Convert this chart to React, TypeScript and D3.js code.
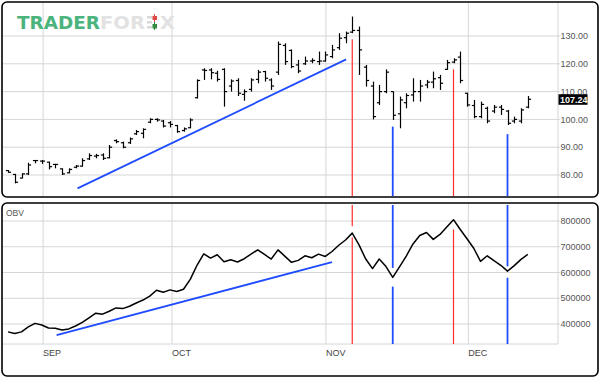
import React from "react";
import * as d3 from "d3";

// ---------- data ----------
const priceOpen = [
  81.6, 80.2, 78.9, 80.4, 85.2, 85.0, 84.6, 83.8, 82.2, 80.8,
  82.8, 83.2, 85.8, 86.8, 87.2, 86.2, 92.4, 91.6, 91.6, 94.8,
  95.0, 99.0, 100.0, 99.4, 98.8, 97.8, 96.0, 97.0, 107.8, 117.8,
  117.8, 116.6, 118.0, 112.0, 114.0, 109.0, 110.8, 114.4, 117.2, 114.2,
  117.0, 126.6, 124.8, 119.6, 120.0, 121.0, 120.8, 121.0, 122.6, 125.8,
  129.4, 131.4, 132.0, 118.8, 112.0, 106.0, 110.0, 110.0, 102.0, 106.0,
  108.8, 110.0, 112.4, 113.4, 115.0, 118.0, 120.6, 122.4, 109.4, 105.0,
  101.0, 104.0, 103.0, 104.4, 103.0, 99.4, 99.4, 104.4,
];
const priceHigh = [
  81.8, 80.4, 80.6, 84.4, 85.4, 85.4, 84.8, 84.0, 82.4, 82.4,
  83.6, 86.0, 87.8, 87.6, 87.8, 90.8, 92.8, 92.0, 93.5, 96.2,
  96.8, 100.4, 100.4, 99.8, 99.4, 98.0, 97.1, 100.4, 114.4, 118.4,
  118.4, 117.5, 118.4, 114.4, 114.8, 110.8, 114.8, 117.8, 117.5, 114.8,
  128.0, 127.4, 125.2, 121.4, 122.6, 122.0, 124.4, 124.4, 126.8, 131.0,
  131.6, 137.0, 133.4, 119.6, 113.6, 112.4, 118.0, 110.0, 108.2, 109.4,
  114.8, 114.2, 114.2, 117.2, 116.0, 121.4, 122.0, 124.4, 109.6, 107.0,
  106.4, 104.6, 105.2, 105.2, 103.4, 101.0, 104.0, 108.4,
];
const priceLow = [
  80.8, 77.0, 78.8, 80.0, 84.2, 84.0, 82.0, 82.4, 80.0, 80.6,
  82.4, 83.0, 85.4, 86.0, 85.4, 86.0, 91.4, 89.6, 91.2, 94.4,
  93.2, 98.6, 99.2, 97.1, 97.1, 95.2, 95.6, 96.8, 107.5, 114.2,
  114.4, 113.6, 104.6, 110.0, 108.4, 106.7, 110.0, 113.0, 113.6, 110.6,
  116.0, 119.6, 118.4, 116.6, 119.6, 120.2, 119.6, 120.8, 122.0, 125.0,
  127.4, 131.0, 116.0, 111.8, 100.0, 105.2, 109.4, 99.8, 96.8, 104.0,
  106.4, 106.4, 111.2, 111.2, 110.6, 117.8, 120.2, 113.0, 104.6, 100.4,
  100.4, 98.6, 102.2, 101.6, 98.0, 98.6, 98.6, 104.0,
];
const priceClose = [
  81.0, 77.4, 80.4, 83.6, 85.2, 85.0, 83.0, 83.8, 80.4, 82.0,
  83.2, 85.2, 87.0, 87.0, 86.0, 90.0, 92.0, 90.0, 93.0, 95.6,
  96.4, 100.0, 99.8, 97.6, 98.2, 95.6, 96.6, 99.8, 114.0, 117.6,
  116.8, 114.4, 110.0, 113.8, 109.4, 110.0, 114.2, 117.0, 114.8, 112.0,
  127.0, 120.8, 119.0, 117.4, 121.0, 121.2, 121.0, 123.2, 125.0, 129.2,
  131.0, 132.0, 125.0, 114.0, 101.0, 110.0, 117.0, 101.5, 107.0, 108.6,
  110.0, 112.0, 113.4, 114.6, 113.0, 120.4, 121.4, 114.0, 105.2, 101.0,
  105.4, 99.4, 104.4, 103.6, 98.6, 100.0, 103.4, 107.24,
];
const obvValues = [
  369400, 363000, 369400, 388500, 402500, 396000, 384700, 383400, 377000, 380900,
  392300, 406300, 424200, 442000, 438200, 449700, 462400, 459800, 468800, 481500,
  493000, 508300, 531200, 523500, 532500, 526100, 535000, 573200, 628000, 672600,
  656000, 668800, 642000, 649700, 640800, 653500, 671300, 687900, 670000, 652200,
  687900, 663700, 639500, 647100, 664900, 657300, 671300, 662400, 681500, 705700,
  726100, 752900, 707000, 652200, 615300, 652200, 622900, 580900, 621600, 663700,
  710800, 743900, 755400, 728700, 747800, 777100, 805100, 766900, 731200, 694300,
  643300, 664900, 645800, 628000, 605100, 626700, 650900, 670000,
];

const monthLabels = ["SEP", "OCT", "NOV", "DEC"];
const monthIndex = [5.2, 24.3, 47.1, 68.2];
const priceTicks = [80, 90, 100, 110, 120, 130];
const obvTicks = [400000, 500000, 600000, 700000, 800000];
const lastPrice = 107.24;

const priceTrendIdx = [10.3, 50.1];
const priceTrendVal = [75.2, 121.6];
const obvTrendIdx = [7.2, 48.0];
const obvTrendVal = [356600, 640750];

// divergence markers
const signalIdx = [51, 57, 66, 74];
const signalKind = ["peak", "trough", "peak", "trough"];
const signalPriceStart = [128.8, 97.4, 118.0, 94.7];
const signalObvUpperEnd: (number | null)[] = [779600, 617800, null, 624200];
const signalObvLowerStart = [736300, 545200, 766900, 579600];

// ---------- layout ----------
const W = 600;
const H = 378;
const TOP = { x: 2, y: 2, w: 596, h: 195 };
const BOT = { x: 2, y: 203, w: 596, h: 173 };
const AXIS_X = 558;
const BOT_PLOT_BOTTOM = 344;
const GRID = "#d6d6d6";
const FONT = "'Liberation Sans', Arial, sans-serif";

export default function App() {
  const x = d3.scaleLinear().domain([0, 77]).range([8, 527.75]);
  const yP = d3.scaleLinear().domain([80, 130]).range([175, 36]);
  const yO = d3.scaleLinear().domain([400000, 800000]).range([324, 221]);

  const obvLine = d3
    .line<number>()
    .x((_, i) => x(i))
    .y((d) => yO(d))(obvValues) as string;

  const priceTrend = d3
    .line<number>()
    .x((d) => x(d))
    .y((_, i) => yP(priceTrendVal[i]))(priceTrendIdx) as string;
  const obvTrend = d3
    .line<number>()
    .x((d) => x(d))
    .y((_, i) => yO(obvTrendVal[i]))(obvTrendIdx) as string;

  const sigColor = (k: string) => (k === "peak" ? "#ff2a2a" : "#1f4cff");
  const sigWidth = (k: string) => (k === "peak" ? 1.2 : 1.8);

  const tick = 2.6;

  return (
    <svg width={W} height={H} style={{ position: "absolute", left: 0, top: 0, background: "#fff" }}
      fontFamily={FONT}>
      <rect x={0} y={0} width={W} height={H} fill="#fff" />

      {/* ---------- top panel grid ---------- */}
      {priceTicks.map((t) => (
        <line key={"pg" + t} x1={TOP.x} x2={AXIS_X + 2} y1={yP(t)} y2={yP(t)} stroke={GRID} strokeWidth={1} />
      ))}
      {monthIndex.map((m, i) => (
        <line key={"pv" + i} x1={x(m)} x2={x(m)} y1={TOP.y} y2={TOP.y + TOP.h} stroke={GRID} strokeWidth={1} />
      ))}
      <line x1={AXIS_X} x2={AXIS_X} y1={TOP.y} y2={TOP.y + TOP.h} stroke={GRID} strokeWidth={1} />

      {/* logo */}
      <g>
        <text x={17} y={28.5} fontFamily="'DejaVu Sans', sans-serif" fontWeight={700} fontSize={17}
          fill="#4bb37c" textLength={83} lengthAdjust="spacingAndGlyphs">TRADER</text>
        <text x={100} y={28.5} fontFamily="'DejaVu Sans', sans-serif" fontWeight={700} fontSize={17}
          fill="#e2e2e2" textLength={45} lengthAdjust="spacingAndGlyphs">FOR</text>
        <rect x={147} y={16} width={5} height={2.5} fill="#d8d8d8" />
        <rect x={147} y={21} width={5} height={2.5} fill="#d8d8d8" />
        <rect x={147} y={26} width={5} height={2.5} fill="#d8d8d8" />
        <line x1={154.5} x2={154.5} y1={14} y2={22} stroke="#e24848" strokeWidth={1} />
        <rect x={152.5} y={16} width={4.5} height={4} fill="#e24848" />
        <line x1={154.5} x2={154.5} y1={22} y2={30} stroke="#2f8f3f" strokeWidth={1} />
        <rect x={152.5} y={24} width={4.5} height={4.5} fill="#2f8f3f" />
        <text x={160} y={28.5} fontFamily="'DejaVu Sans', sans-serif" fontWeight={700} fontSize={17}
          fill="#e2e2e2" textLength={15} lengthAdjust="spacingAndGlyphs">X</text>
      </g>

      {/* price axis labels */}
      {priceTicks.map((t) => (
        <text key={"pl" + t} x={560.5} y={yP(t)} dy="0.35em" fontSize={9} fill="#555">
          {t.toFixed(2)}
        </text>
      ))}

      {/* signal lines top */}
      {signalIdx.map((s, i) => (
        <line key={"st" + i} x1={x(s)} x2={x(s)} y1={yP(signalPriceStart[i])} y2={TOP.y + TOP.h - 1}
          stroke={sigColor(signalKind[i])} strokeWidth={sigWidth(signalKind[i])} />
      ))}

      {/* price trendline */}
      <path d={priceTrend} fill="none" stroke="#1f4cff" strokeWidth={1.8} />

      {/* OHLC bars */}
      {priceHigh.map((h, i) => {
        const cx = Math.round(x(i)) + 0.5;
        return (
          <g key={"b" + i} stroke="#000" strokeWidth={1.2}>
            <line x1={cx} x2={cx} y1={yP(h)} y2={yP(priceLow[i])} />
            <line x1={cx - tick} x2={cx} y1={yP(priceOpen[i])} y2={yP(priceOpen[i])} />
            <line x1={cx} x2={cx + tick} y1={yP(priceClose[i])} y2={yP(priceClose[i])} />
          </g>
        );
      })}

      {/* last price tag */}
      <rect x={558.5} y={yP(lastPrice) - 5} width={29} height={10.5} fill="#000" />
      <text x={560} y={yP(lastPrice) + 0.3} dy="0.35em" fontSize={9} fontWeight={700} fill="#fff">
        {lastPrice.toFixed(2)}
      </text>

      <rect x={TOP.x} y={TOP.y} width={TOP.w} height={TOP.h} rx={5} fill="none" stroke="#000" strokeWidth={1.6} />

      {/* ---------- bottom panel ---------- */}
      {obvTicks.map((t) => (
        <line key={"og" + t} x1={BOT.x} x2={AXIS_X + 2} y1={yO(t)} y2={yO(t)} stroke={GRID} strokeWidth={1} />
      ))}
      {monthIndex.map((m, i) => (
        <line key={"ov" + i} x1={x(m)} x2={x(m)} y1={BOT.y} y2={BOT_PLOT_BOTTOM} stroke={GRID} strokeWidth={1} />
      ))}
      <line x1={AXIS_X} x2={AXIS_X} y1={BOT.y} y2={BOT_PLOT_BOTTOM} stroke={GRID} strokeWidth={1} />
      <line x1={BOT.x} x2={AXIS_X} y1={BOT_PLOT_BOTTOM} y2={BOT_PLOT_BOTTOM} stroke={GRID} strokeWidth={1} />

      {obvTicks.map((t) => (
        <text key={"ol" + t} x={560.5} y={yO(t)} dy="0.35em" fontSize={9} fill="#555">
          {t}
        </text>
      ))}
      <text x={6} y={213} dy="0.35em" fontSize={8.5} fill="#555">OBV</text>

      {monthLabels.map((m, i) => (
        <text key={"ml" + i} x={x(monthIndex[i])} y={353} dy="0.35em" fontSize={9} fill="#444">
          {m}
        </text>
      ))}

      {/* signal lines bottom */}
      {signalIdx.map((s, i) => {
        const c = sigColor(signalKind[i]);
        const w = sigWidth(signalKind[i]);
        const up = signalObvUpperEnd[i];
        return (
          <g key={"sb" + i} stroke={c} strokeWidth={w}>
            {up !== null && <line x1={x(s)} x2={x(s)} y1={BOT.y + 2} y2={yO(up)} />}
            <line x1={x(s)} x2={x(s)} y1={yO(signalObvLowerStart[i])} y2={BOT_PLOT_BOTTOM} />
          </g>
        );
      })}

      <path d={obvTrend} fill="none" stroke="#1f4cff" strokeWidth={1.8} />
      <path d={obvLine} fill="none" stroke="#000" strokeWidth={1.5} strokeLinejoin="round" />

      <rect x={BOT.x} y={BOT.y} width={BOT.w} height={BOT.h} rx={5} fill="none" stroke="#000" strokeWidth={1.6} />
    </svg>
  );
}
